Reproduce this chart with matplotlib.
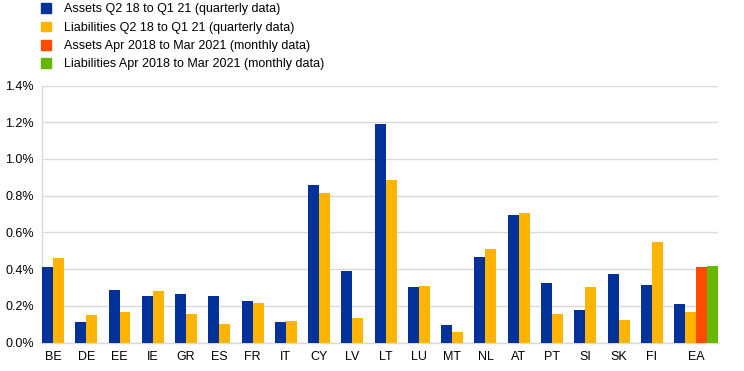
import matplotlib
matplotlib.use("Agg")
import matplotlib.pyplot as plt
from matplotlib.patches import Patch

plt.rcParams["font.family"] = ["Liberation Sans", "DejaVu Sans"]

countries = ["BE", "DE", "EE", "IE", "GR", "ES", "FR", "IT", "CY", "LV",
             "LT", "LU", "MT", "NL", "AT", "PT", "SI", "SK", "FI", "EA"]
# percent values
assets_q = [0.41, 0.111, 0.289, 0.254, 0.263, 0.256, 0.225, 0.111, 0.856, 0.391,
            1.192, 0.302, 0.096, 0.465, 0.694, 0.325, 0.176, 0.374, 0.314, 0.209]
liab_q = [0.461, 0.149, 0.167, 0.282, 0.154, 0.104, 0.214, 0.116, 0.816, 0.133,
          0.886, 0.309, 0.056, 0.510, 0.705, 0.154, 0.303, 0.124, 0.547, 0.169]
assets_m_ea = 0.412
liab_m_ea = 0.418

labels = ["Assets Q2 18 to Q1 21 (quarterly data)",
          "Liabilities Q2 18 to Q1 21 (quarterly data)",
          "Assets Apr 2018 to Mar 2021 (monthly data)",
          "Liabilities Apr 2018 to Mar 2021 (monthly data)"]
colors = ["#003299", "#FFB400", "#FF4B00", "#65B800"]

fig = plt.figure(figsize=(7.44, 3.71), dpi=100)
ax = fig.add_axes([42 / 744, 28.3 / 371, 676 / 744, 257.2 / 371])

w = 0.33
x = list(range(len(countries)))
ax.bar(x, assets_q, width=w, align="edge", color=colors[0], zorder=3)
ax.bar([i + w for i in x], liab_q, width=w, align="edge", color=colors[1], zorder=3)
ax.bar([x[-1] + 2 * w], [assets_m_ea], width=w, align="edge", color=colors[2], zorder=3)
ax.bar([x[-1] + 3 * w], [liab_m_ea], width=w, align="edge", color=colors[3], zorder=3)

ticks = [i + w for i in x[:-1]] + [x[-1] + 2 * w]
ax.set_xticks(ticks)
ax.set_xticklabels(countries, fontsize=9)
ax.set_xlim(0, x[-1] + 4 * w)

ax.set_ylim(0, 1.4)
yt = [0.2 * k for k in range(8)]
ax.set_yticks(yt)
ax.set_yticklabels([f"{v:.1f}%" for v in yt], fontsize=9)
ax.tick_params(length=0, pad=6)
ax.grid(axis="y", color="#d9d9d9", linewidth=1, zorder=0)

for s in ["top", "right"]:
    ax.spines[s].set_visible(False)
for s in ["left", "bottom"]:
    ax.spines[s].set_color("#d9d9d9")
    ax.spines[s].set_linewidth(1)

handles = [Patch(color=c) for c in colors]
fig.legend(handles, labels, loc="upper left", bbox_to_anchor=(40 / 744, 1 - 2 / 371),
           frameon=False, fontsize=9, handlelength=0.8, handleheight=0.8,
           handletextpad=1.0, labelspacing=0.5, borderpad=0.1, borderaxespad=0)

fig.savefig("out.png", dpi=100)
